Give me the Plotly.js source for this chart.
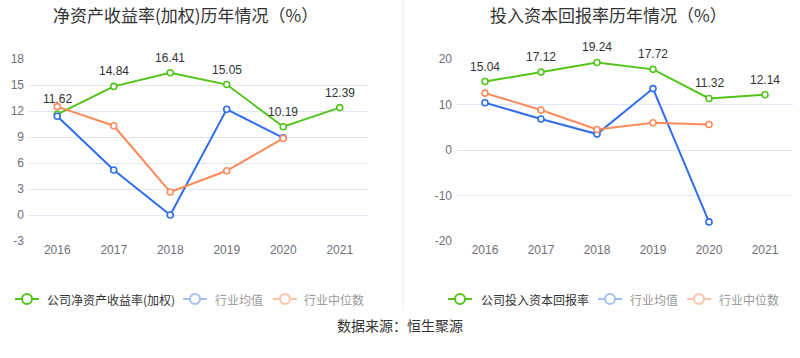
<!DOCTYPE html>
<html>
<head>
<meta charset="utf-8">
<script src="https://cdn.plot.ly/plotly-3.0.1.min.js"></script>
<style>html,body{margin:0;padding:0;background:#fff;}#chart{width:800px;height:358px;}</style>
</head>
<body>
<div id="chart"></div>
<script>
// ---- data ----
const years = ['2016', '2017', '2018', '2019', '2020', '2021'];
const roeCompany = [11.62, 14.84, 16.41, 15.05, 10.19, 12.39];
const roeIndustryMean = [11.4, 5.2, 0.0, 12.2, 8.9, null];
const roeIndustryMedian = [12.5, 10.3, 2.65, 5.1, 8.85, null];
const roicCompany = [15.04, 17.12, 19.24, 17.72, 11.32, 12.14];
const roicIndustryMean = [10.4, 6.8, 3.5, 13.5, -15.8, null];
const roicIndustryMedian = [12.5, 8.8, 4.5, 6.0, 5.6, null];
const leftTicks = [-3, 0, 3, 6, 9, 12, 15, 18];
const leftTickLabels = ['-3', '0', '3', '6', '9', '12', '15', '18'];
const rightTicks = [-20, -10, 0, 10, 20];
const rightTickLabels = ['-20', '-10', '0', '10', '20'];
const leftTitle = '净资产收益率(加权)历年情况（%）';
const rightTitle = '投入资本回报率历年情况（%）';
const leftLegend = ['公司净资产收益率(加权)', '行业均值', '行业中位数'];
const rightLegend = ['公司投入资本回报率', '行业均值', '行业中位数'];
const sourceText = '数据来源：恒生聚源';

// ---- style ----
const W = 800, H = 358;
const GREEN = '#52c41a', BLUE = '#2f6eea', ORANGE = '#fc8a5a';
const LBLUE = '#a3bff5', LORANGE = '#fdc2a8';
const FONT = 'Liberation Sans, Arial, Noto Sans CJK SC, sans-serif';
const CJK = 'Noto Sans CJK SC, sans-serif';
const px = x => x / W;
const py = y => 1 - y / H;
const yDom = [py(241), py(59)];
const leftRange = [-3, 18], rightRange = [-20, 20];
const zeroPos = (r) => yDom[0] + (0 - r[0]) / (r[1] - r[0]) * (yDom[1] - yDom[0]);

function series(x, y, color, xa, ya) {
  return {
    x: x, y: y, xaxis: xa, yaxis: ya, type: 'scatter', mode: 'lines+markers',
    line: {color: color, width: 2},
    marker: {symbol: 'circle', size: 6, color: '#fff', line: {color: color, width: 1.6}},
    cliponaxis: false, showlegend: false, hoverinfo: 'skip'
  };
}

const data = [
  series(years, roeCompany, GREEN, 'x', 'y'),
  series(years, roeIndustryMean, BLUE, 'x', 'y'),
  series(years, roeIndustryMedian, ORANGE, 'x', 'y'),
  series(years, roicCompany, GREEN, 'x2', 'y2'),
  series(years, roicIndustryMean, BLUE, 'x2', 'y2'),
  series(years, roicIndustryMedian, ORANGE, 'x2', 'y2')
];

const tickFont = {family: FONT, size: 12, color: '#6E7079'};
function xcat(dom, anchor) {
  return {domain: dom, anchor: anchor, type: 'category', range: [-0.5, 5.5],
    showgrid: false, showline: false, zeroline: false, ticks: '',
    tickfont: tickFont, fixedrange: true};
}
function yval(range, tv, tt, anchor) {
  return {domain: yDom, anchor: anchor, range: range, tickmode: 'array', tickvals: tv, ticktext: tt,
    gridcolor: '#E0E6F1', gridwidth: 1, zeroline: false, showline: false,
    ticks: '', tickfont: tickFont, ticklabelstandoff: 4, fixedrange: true};
}
function xline(dom, overlay, range) {
  return {domain: dom, overlaying: overlay, anchor: 'free', position: zeroPos(range),
    type: 'linear', range: [-0.5, 5.5], tickvals: [0, 1, 2, 3, 4, 5],
    showticklabels: false, showgrid: false, zeroline: false, showline: true,
    linecolor: '#6E7079', linewidth: 1, ticks: 'outside', ticklen: 5,
    tickcolor: '#6E7079', tickwidth: 1, fixedrange: true};
}

const shapes = [
  {type: 'line', xref: 'paper', yref: 'paper', x0: px(403), x1: px(403), y0: py(0), y1: py(310),
    line: {color: '#eeeeee', width: 1}}
];
const annotations = [
  {text: leftTitle, x: px(185), y: py(14), xref: 'paper', yref: 'paper', showarrow: false,
    xanchor: 'center', yanchor: 'middle', font: {family: CJK, size: 17, color: '#333'}},
  {text: rightTitle, x: px(608), y: py(14), xref: 'paper', yref: 'paper', showarrow: false,
    xanchor: 'center', yanchor: 'middle', font: {family: CJK, size: 17, color: '#333'}},
  {text: sourceText, x: px(400), y: py(325), xref: 'paper', yref: 'paper', showarrow: false,
    xanchor: 'center', yanchor: 'middle', font: {family: CJK, size: 14, color: '#333'}}
];

function valueLabels(xs, ys, xa, ya) {
  xs.forEach((x, i) => {
    annotations.push({text: ys[i].toFixed(2), x: i, y: ys[i], xref: xa, yref: ya,
      showarrow: false, xanchor: 'center', yanchor: 'middle', yshift: 15,
      font: {family: FONT, size: 12, color: '#333'}});
  });
}
valueLabels(years, roeCompany, 'x', 'y');
valueLabels(years, roicCompany, 'x2', 'y2');

function legendItem(cx, tx, label, color, textColor) {
  const ly = 299;
  shapes.push({type: 'line', xref: 'paper', yref: 'paper', x0: px(cx - 12), x1: px(cx + 12),
    y0: py(ly), y1: py(ly), line: {color: color, width: 2}});
  shapes.push({type: 'circle', xref: 'paper', yref: 'paper', x0: px(cx - 5), x1: px(cx + 5),
    y0: py(ly - 5), y1: py(ly + 5), fillcolor: '#fff', line: {color: color, width: 2}});
  annotations.push({text: label, x: px(tx), y: py(ly), xref: 'paper', yref: 'paper', showarrow: false,
    xanchor: 'left', yanchor: 'middle', font: {family: CJK, size: 12, color: textColor}});
}
legendItem(27, 45, leftLegend[0], GREEN, '#333');
legendItem(195, 213, leftLegend[1], LBLUE, '#999');
legendItem(285, 302, leftLegend[2], LORANGE, '#999');
legendItem(460, 479, rightLegend[0], GREEN, '#333');
legendItem(610, 628, rightLegend[1], LBLUE, '#999');
legendItem(699, 717, rightLegend[2], LORANGE, '#999');

const layout = {
  width: W, height: H, margin: {l: 0, r: 0, t: 0, b: 0, pad: 0},
  paper_bgcolor: '#fff', plot_bgcolor: 'rgba(0,0,0,0)', showlegend: false,
  xaxis: xcat([px(29), px(368)], 'y'),
  yaxis: yval(leftRange, leftTicks, leftTickLabels, 'x'),
  xaxis2: xcat([px(457), px(793)], 'y2'),
  yaxis2: yval(rightRange, rightTicks, rightTickLabels, 'x2'),
  xaxis3: xline([px(29), px(368)], 'x', leftRange),
  xaxis4: xline([px(457), px(793)], 'x2', rightRange),
  shapes: shapes, annotations: annotations
};

Plotly.newPlot('chart', data, layout, {staticPlot: true, displayModeBar: false});
</script>
</body>
</html>
